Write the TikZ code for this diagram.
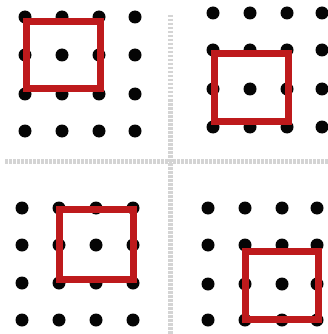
\documentclass[tikz,border=0pt]{standalone}
\usetikzlibrary{positioning}
\definecolor{cBox}{HTML}{BE1A1C}
\definecolor{cSep}{HTML}{D4D4D4}
\definecolor{cDot}{HTML}{050505}

\begin{document}
\begin{tikzpicture}[
  x=1pt, y=-1pt,
  dot/.style={circle, fill=cDot, inner sep=0pt, minimum width=12pt, minimum height=13pt},
  frame/.style={draw=cBox, line width=7pt},
  sep/.style={draw=cSep, line width=5pt, dash pattern=on 2.5pt off 1.5pt},
]
\useasboundingbox (0,0) rectangle (328,334);

% ---------- Separators ----------
\coordinate (vtop) at (170,15);
\coordinate (vbot) at (170,334);
\coordinate (hleft) at (5,161);
\coordinate (hright) at (328,161);
\draw[sep] (vtop) -- (vbot);
\draw[sep] (hleft) -- (hright);

% ---------- Dot grids ----------
\foreach \x [count=\i] in {25,62,99,135}
  \foreach \y [count=\j] in {17,55,94,131}
    \node[dot] (tl-\i-\j) at (\x,\y) {};
\foreach \x [count=\i] in {213,250,287,322}
  \foreach \y [count=\j] in {13,50,89,127}
    \node[dot] (tr-\i-\j) at (\x,\y) {};
\foreach \x [count=\i] in {22,59,96,133}
  \foreach \y [count=\j] in {208,245,283,320}
    \node[dot] (bl-\i-\j) at (\x,\y) {};
\foreach \x [count=\i] in {208,245,282,317}
  \foreach \y [count=\j] in {208,245,284,320}
    \node[dot] (br-\i-\j) at (\x,\y) {};

% ---------- Frames ----------
\draw[frame] (26,22) rectangle (100,89);
\draw[frame] (214,54) rectangle (288,121);
\draw[frame] (59,209) rectangle (133,279);
\draw[frame] (245,251) rectangle (318,319);

\end{tikzpicture}
\end{document}
